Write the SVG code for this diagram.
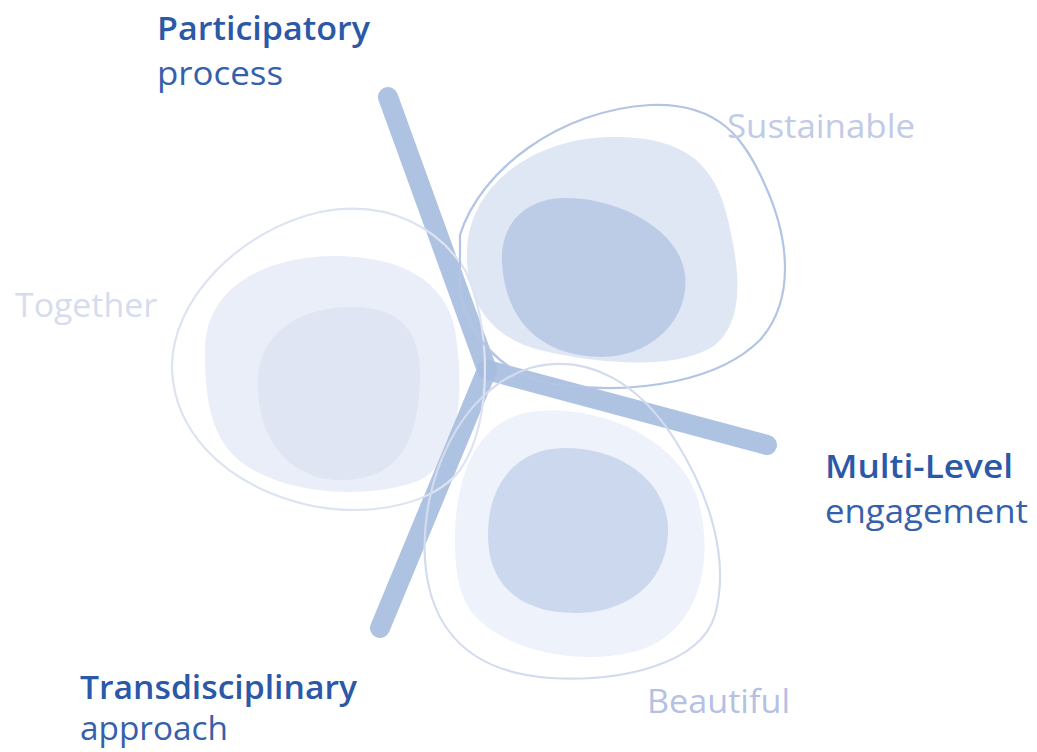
<svg xmlns="http://www.w3.org/2000/svg" width="1037" height="752" viewBox="0 0 1037 752">
  <style>
    .lbl { font-family: "Open Sans", "Noto Sans", "Liberation Sans", sans-serif; font-size: 32px; }
    .head { font-weight: 600; fill: #2c58a8; }
    .sub { font-weight: 400; fill: #3560ab; }
    .value { font-weight: 400; }
    .arm { fill: none; stroke: #a7bde0; stroke-width: 20; stroke-linecap: round; stroke-linejoin: miter; opacity: 0.92; }
    .outline { fill: none; stroke-width: 2.2; }
  </style>
  <rect width="1037" height="752" fill="#ffffff"/>

  <!-- Together blob -->
  <g id="together">
    <path d="M 205,350 C 205,290 260,258 330,256 C 400,255 445,280 455,330 C 465,390 460,460 420,480 C 370,500 290,495 245,465 C 210,440 205,400 205,350 Z" fill="#eaeef8"/>
    <path d="M 258,390 C 255,340 290,310 345,307 C 400,305 422,330 420,380 C 418,440 400,478 345,480 C 290,482 260,440 258,390 Z" fill="#dfe5f3"/>
  </g>

  <!-- Sustainable blob -->
  <g id="sustainable">
    <path d="M 467,250 C 470,180 540,138 610,137 C 680,136 715,160 728,220 C 740,270 745,320 715,345 C 680,370 600,365 540,350 C 490,338 465,300 467,250 Z" fill="#dfe6f4"/>
    <path d="M 502,262 C 500,220 530,198 565,198 C 620,198 680,230 685,275 C 690,320 650,358 600,357 C 540,356 505,320 502,262 Z" fill="#bccbe6"/>
  </g>

  <!-- Beautiful blob -->
  <g id="beautiful">
    <path d="M 455,540 C 455,470 480,420 530,412 C 600,402 680,440 698,500 C 715,560 700,630 640,650 C 580,668 500,650 470,610 C 458,590 455,570 455,540 Z" fill="#eef2fa"/>
    <path d="M 488,535 C 488,480 520,448 565,448 C 625,448 668,485 668,530 C 668,580 630,613 575,613 C 520,613 488,585 488,535 Z" fill="#ccd8ee"/>
  </g>

  <!-- three-armed connector -->
  <g id="connectors">
    <path class="arm" d="M 388,97 L 487,370"/>
    <path class="arm" d="M 487,370 L 767,445"/>
    <path class="arm" d="M 487,370 L 380,628"/>
  </g>

  <!-- blob outlines drawn over the arms -->
  <g id="outlines">
    <path class="outline" stroke="#dde3f1" d="M 172,370 C 170,300 240,230 320,212 C 390,198 440,230 465,270 C 490,320 495,420 460,470 C 430,510 350,520 290,500 C 220,478 175,430 172,370 Z"/>
    <path class="outline" stroke="#b3c4e5" d="M 460,235 C 480,170 560,110 650,105 C 720,102 745,140 765,185 C 790,240 795,300 760,340 C 720,380 640,395 560,385 C 500,378 465,330 460,290 Z"/>
    <path class="outline" stroke="#d3dcee" d="M 425,560 C 420,480 460,390 530,368 C 590,352 640,385 675,440 C 710,495 730,560 715,615 C 700,665 620,682 550,678 C 470,672 430,630 425,560 Z"/>
  </g>

  <!-- labels -->
  <g id="participatory">
    <text class="lbl head" x="157" y="40" textLength="213" lengthAdjust="spacingAndGlyphs">Participatory</text>
    <text class="lbl sub" x="157" y="85" textLength="126" lengthAdjust="spacingAndGlyphs">process</text>
  </g>
  <g id="multilevel">
    <text class="lbl head" x="825" y="478" textLength="188" lengthAdjust="spacingAndGlyphs">Multi-Level</text>
    <text class="lbl sub" x="825" y="523" textLength="203" lengthAdjust="spacingAndGlyphs">engagement</text>
  </g>
  <g id="transdisciplinary">
    <text class="lbl head" x="80" y="699" font-size="30" textLength="277" lengthAdjust="spacingAndGlyphs">Transdisciplinary</text>
    <text class="lbl sub" x="80" y="740" font-size="30" textLength="148" lengthAdjust="spacingAndGlyphs">approach</text>
  </g>
  <text class="lbl value" x="727" y="138" fill="#c0cbe6" textLength="188" lengthAdjust="spacingAndGlyphs">Sustainable</text>
  <text class="lbl value" x="15" y="317" fill="#d6dcee" textLength="142" lengthAdjust="spacingAndGlyphs">Together</text>
  <text class="lbl value" x="647" y="713" fill="#b4c0e4" textLength="143" lengthAdjust="spacingAndGlyphs">Beautiful</text>
</svg>
